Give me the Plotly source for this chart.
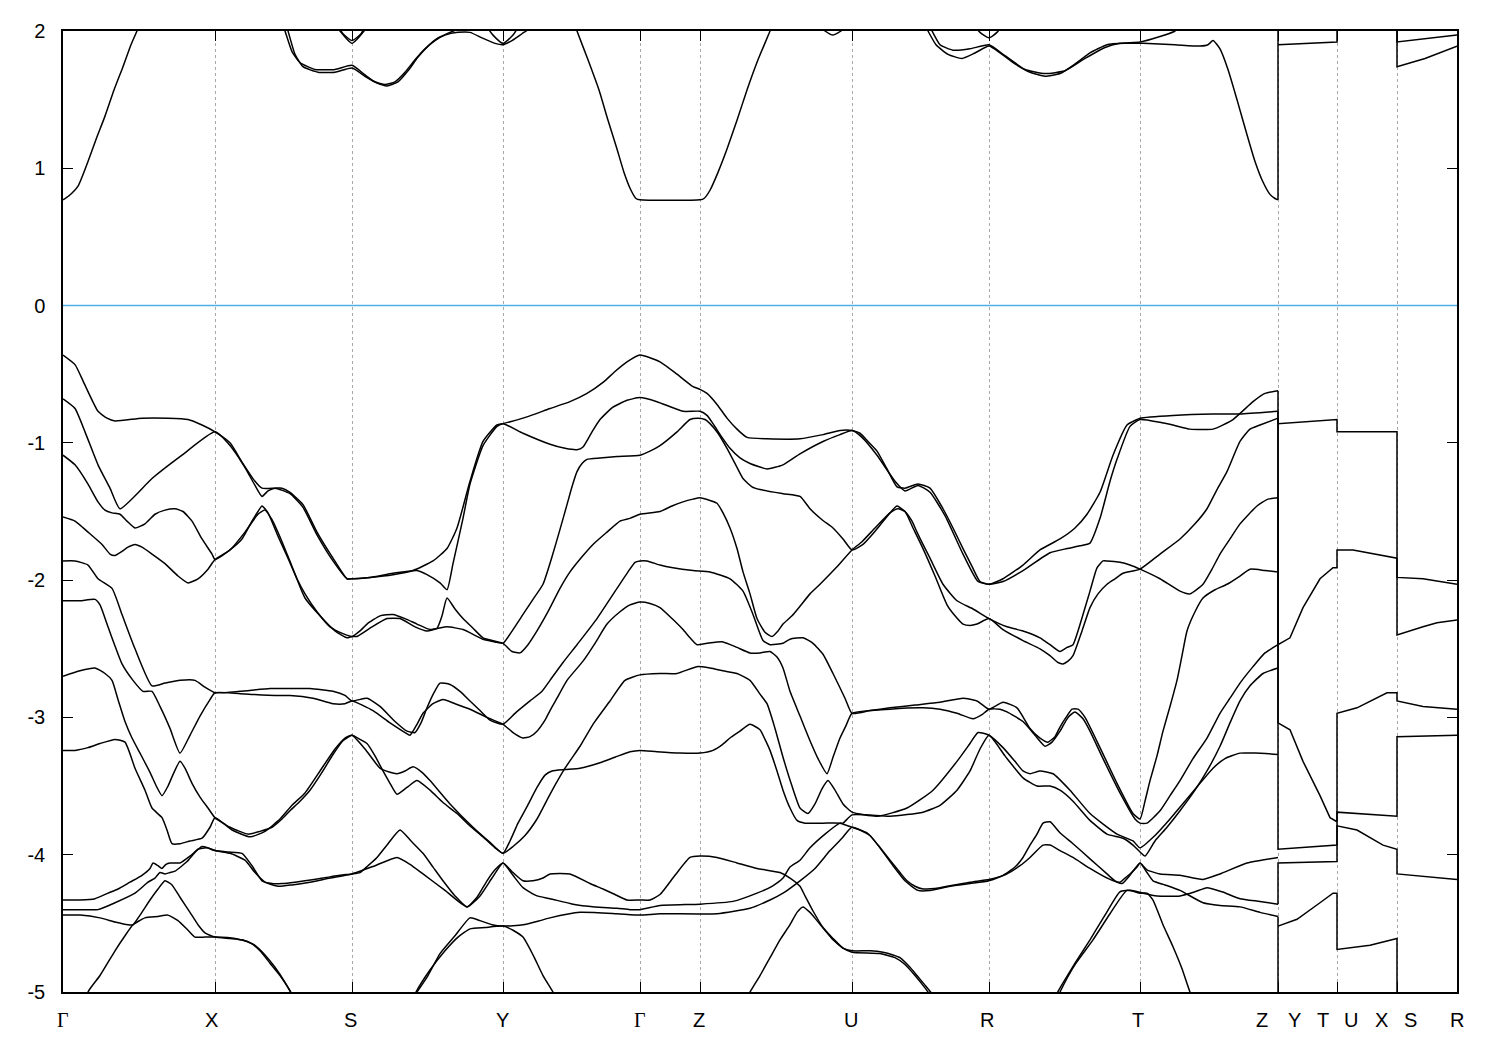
import plotly.graph_objects as go

# ---- high-symmetry path (k, path units) ----
KPTS = [0.0, 0.152, 0.289, 0.440, 0.577, 0.637, 0.789, 0.926, 1.077, 1.215, 1.274, 1.334, 1.394]
LABELS = ["Γ", "X", "S", "Y", "Γ", "Z", "U", "R", "T", "Z", "Y", "T", "U", "X", "S", "R"]
LABEL_K = [0.0, 0.148, 0.287, 0.439, 0.577, 0.636, 0.788, 0.924, 1.075, 1.199, 1.231, 1.260, 1.288, 1.318, 1.347, 1.394]
YTICKS = [-5, -4, -3, -2, -1, 0, 1, 2]
YTICKTEXT = ["-5", "-4", "-3", "-2", "-1", "0", "1", "2"]

# ---- valence bands: (k, E) ----
V1 = [(0,-0.36),(0.012,-0.43),(0.022,-0.58),(0.035,-0.77),(0.044,-0.82),(0.052,-0.84),(0.079,-0.82),(0.105,-0.82),(0.125,-0.83),(0.139,-0.87),(0.152,-0.92),
      (0.167,-1.00),(0.179,-1.14),(0.192,-1.28),(0.199,-1.33),(0.212,-1.33),(0.219,-1.33),(0.227,-1.36),(0.240,-1.45),(0.254,-1.65),(0.270,-1.84),(0.284,-1.99),(0.289,-1.99),
      (0.307,-1.98),(0.330,-1.96),(0.350,-1.93),(0.370,-1.86),(0.384,-1.77),(0.394,-1.62),(0.407,-1.28),(0.420,-0.99),(0.434,-0.87),(0.440,-0.86),
      (0.460,-0.82),(0.487,-0.75),(0.507,-0.70),(0.524,-0.64),(0.540,-0.56),(0.552,-0.48),(0.564,-0.41),(0.577,-0.36),
      (0.597,-0.41),(0.614,-0.50),(0.630,-0.59),(0.637,-0.61),(0.644,-0.64),(0.654,-0.72),(0.664,-0.82),(0.674,-0.90),(0.684,-0.96),(0.704,-0.97),(0.737,-0.97),(0.760,-0.94),(0.777,-0.91),(0.789,-0.91),
      (0.797,-0.93),(0.805,-0.99),(0.814,-1.06),(0.824,-1.19),(0.834,-1.32),(0.842,-1.33),(0.855,-1.30),(0.867,-1.33),(0.880,-1.48),(0.890,-1.62),(0.900,-1.77),(0.909,-1.90),(0.917,-2.01),(0.926,-2.03),
      (0.940,-1.99),(0.960,-1.89),(0.977,-1.78),(0.997,-1.70),(1.012,-1.62),(1.024,-1.52),(1.037,-1.36),(1.050,-1.09),(1.064,-0.87),(1.074,-0.83),(1.077,-0.82),
      (1.110,-0.80),(1.150,-0.79),(1.177,-0.79),(1.215,-0.77)]
V2 = [(0,-0.68),(0.012,-0.75),(0.022,-0.92),(0.035,-1.16),(0.047,-1.33),(0.057,-1.48),(0.089,-1.26),(0.119,-1.09),(0.152,-0.92),
      (0.167,-1.02),(0.182,-1.18),(0.192,-1.31),(0.199,-1.39),(0.205,-1.35),(0.212,-1.33),(0.227,-1.37),(0.240,-1.47),(0.254,-1.67),(0.270,-1.86),(0.284,-1.99),(0.289,-1.99),
      (0.307,-1.98),(0.330,-1.95),(0.354,-1.93),(0.364,-1.96),(0.377,-2.02),(0.384,-2.07),(0.390,-1.88),(0.400,-1.55),(0.407,-1.30),(0.420,-1.02),(0.434,-0.88),(0.440,-0.86),
      (0.460,-0.93),(0.487,-1.01),(0.502,-1.04),(0.514,-1.05),(0.520,-1.03),(0.529,-0.92),(0.537,-0.83),(0.550,-0.74),(0.564,-0.69),(0.577,-0.67),
      (0.594,-0.70),(0.620,-0.77),(0.637,-0.77),(0.644,-0.80),(0.650,-0.86),(0.659,-0.96),(0.667,-1.04),(0.677,-1.11),(0.687,-1.15),(0.704,-1.19),(0.720,-1.16),(0.737,-1.08),(0.760,-0.99),(0.777,-0.94),(0.789,-0.91),
      (0.799,-0.96),(0.814,-1.09),(0.832,-1.28),(0.842,-1.35),(0.855,-1.31),(0.867,-1.36),(0.882,-1.53),(0.900,-1.81),(0.915,-2.01),(0.926,-2.03),
      (0.940,-2.01),(0.960,-1.93),(0.987,-1.80),(1.004,-1.77),(1.017,-1.75),(1.027,-1.73),(1.037,-1.55),(1.047,-1.28),(1.054,-1.12),(1.067,-0.88),(1.077,-0.83),
      (1.097,-0.85),(1.110,-0.87),(1.127,-0.90),(1.150,-0.90),(1.170,-0.83),(1.190,-0.70),(1.202,-0.64),(1.215,-0.62)]
V3 = [(0,-1.09),(0.012,-1.16),(0.025,-1.30),(0.035,-1.43),(0.042,-1.49),(0.049,-1.51),(0.057,-1.52),(0.064,-1.57),(0.072,-1.62),(0.082,-1.59),(0.092,-1.52),(0.102,-1.49),(0.112,-1.48),(0.120,-1.50),(0.129,-1.57),(0.139,-1.70),(0.149,-1.81),(0.152,-1.85),
      (0.165,-1.79),(0.179,-1.70),(0.189,-1.57),(0.195,-1.50),(0.199,-1.46),(0.205,-1.51),(0.215,-1.68),(0.225,-1.84),(0.234,-1.99),(0.242,-2.10),(0.254,-2.23),(0.267,-2.34),(0.280,-2.39),(0.289,-2.41),
      (0.297,-2.37),(0.304,-2.32),(0.317,-2.26),(0.330,-2.25),(0.342,-2.28),(0.354,-2.32),(0.367,-2.36),(0.384,-2.34),(0.400,-2.36),(0.420,-2.43),(0.432,-2.45),(0.440,-2.46),
      (0.450,-2.36),(0.460,-2.25),(0.470,-2.14),(0.480,-2.03),(0.489,-1.83),(0.497,-1.63),(0.504,-1.45),(0.509,-1.32),(0.514,-1.21),(0.519,-1.15),(0.524,-1.12),(0.537,-1.11),(0.554,-1.10),(0.577,-1.09),
      (0.587,-1.06),(0.597,-1.02),(0.614,-0.92),(0.627,-0.83),(0.635,-0.82),(0.642,-0.83),(0.647,-0.86),(0.655,-0.93),(0.664,-1.04),(0.672,-1.15),(0.680,-1.26),(0.689,-1.32),(0.697,-1.34),(0.720,-1.37),(0.737,-1.39),(0.747,-1.48),(0.759,-1.56),(0.770,-1.62),(0.780,-1.70),(0.789,-1.78),
      (0.800,-1.74),(0.809,-1.67),(0.817,-1.60),(0.827,-1.51),(0.834,-1.46),(0.842,-1.50),(0.849,-1.57),(0.854,-1.65),(0.860,-1.74),(0.867,-1.84),(0.880,-2.03),(0.894,-2.15),(0.910,-2.21),(0.926,-2.28),
      (0.944,-2.34),(0.960,-2.37),(0.977,-2.42),(0.987,-2.47),(0.997,-2.52),(1.004,-2.49),(1.010,-2.47),(1.015,-2.37),(1.020,-2.25),(1.027,-2.08),(1.034,-1.91),(1.040,-1.86),(1.044,-1.86),(1.057,-1.87),(1.067,-1.89),(1.077,-1.92),
      (1.097,-1.99),(1.117,-2.08),(1.127,-2.10),(1.140,-2.03),(1.149,-1.92),(1.157,-1.81),(1.167,-1.70),(1.177,-1.59),(1.194,-1.46),(1.205,-1.41),(1.215,-1.40)]
V4 = [(0,-1.54),(0.012,-1.57),(0.025,-1.65),(0.039,-1.74),(0.047,-1.81),(0.052,-1.82),(0.059,-1.79),(0.065,-1.76),(0.072,-1.74),(0.079,-1.76),(0.089,-1.81),(0.102,-1.88),(0.115,-1.97),(0.125,-2.02),(0.135,-1.99),(0.145,-1.92),(0.152,-1.85),
      (0.167,-1.78),(0.182,-1.65),(0.195,-1.52),(0.202,-1.49),(0.209,-1.56),(0.219,-1.72),(0.229,-1.90),(0.242,-2.13),(0.257,-2.26),(0.272,-2.37),(0.284,-2.42),(0.289,-2.41),
      (0.294,-2.41),(0.307,-2.35),(0.324,-2.28),(0.337,-2.28),(0.352,-2.34),(0.364,-2.37),(0.374,-2.35),(0.379,-2.26),(0.384,-2.13),(0.392,-2.21),(0.400,-2.28),(0.410,-2.35),(0.420,-2.42),(0.440,-2.46),
      (0.449,-2.52),(0.457,-2.53),(0.465,-2.47),(0.474,-2.37),(0.485,-2.23),(0.497,-2.06),(0.507,-1.94),(0.519,-1.83),(0.530,-1.74),(0.544,-1.65),(0.557,-1.57),(0.567,-1.55),(0.577,-1.52),
      (0.597,-1.50),(0.609,-1.46),(0.620,-1.43),(0.630,-1.41),(0.637,-1.40),(0.647,-1.42),(0.654,-1.44),(0.660,-1.51),(0.667,-1.62),(0.674,-1.77),(0.680,-1.94),(0.687,-2.10),(0.694,-2.28),(0.702,-2.38),(0.709,-2.41),(0.715,-2.37),(0.720,-2.32),(0.729,-2.26),(0.737,-2.19),(0.747,-2.10),(0.757,-2.03),(0.773,-1.91),(0.789,-1.78),
      (0.799,-1.72),(0.812,-1.62),(0.827,-1.51),(0.835,-1.48),(0.842,-1.50),(0.850,-1.62),(0.860,-1.77),(0.872,-1.97),(0.884,-2.18),(0.892,-2.26),(0.900,-2.32),(0.907,-2.33),(0.914,-2.32),(0.926,-2.28),
      (0.940,-2.36),(0.960,-2.44),(0.977,-2.50),(0.987,-2.55),(0.995,-2.60),(1.000,-2.61),(1.005,-2.59),(1.010,-2.55),(1.019,-2.37),(1.027,-2.20),(1.035,-2.10),(1.044,-2.03),(1.052,-1.99),(1.060,-1.95),(1.077,-1.92),
      (1.097,-1.81),(1.117,-1.70),(1.132,-1.59),(1.144,-1.48),(1.154,-1.34),(1.164,-1.21),(1.177,-0.99),(1.187,-0.90),(1.197,-0.87),(1.215,-0.82)]
V5 = [(0,-1.86),(0.012,-1.86),(0.025,-1.89),(0.035,-1.99),(0.049,-2.06),(0.059,-2.25),(0.072,-2.50),(0.089,-2.77),(0.102,-2.75),(0.117,-2.73),(0.132,-2.73),(0.142,-2.78),(0.152,-2.82),
      (0.177,-2.81),(0.207,-2.79),(0.227,-2.79),(0.247,-2.79),(0.270,-2.81),(0.282,-2.84),(0.289,-2.88),
      (0.304,-2.86),(0.317,-2.92),(0.332,-3.03),(0.344,-3.10),(0.352,-3.11),(0.358,-3.04),(0.364,-2.93),(0.371,-2.82),(0.377,-2.75),(0.387,-2.76),(0.397,-2.81),(0.407,-2.88),(0.417,-2.95),(0.427,-3.02),(0.440,-3.05),
      (0.452,-2.97),(0.467,-2.88),(0.479,-2.81),(0.487,-2.73),(0.500,-2.60),(0.514,-2.47),(0.534,-2.28),(0.554,-2.06),(0.565,-1.94),(0.572,-1.87),(0.577,-1.86),
      (0.584,-1.86),(0.597,-1.89),(0.610,-1.91),(0.630,-1.93),(0.647,-1.94),(0.667,-1.99),(0.680,-2.08),(0.690,-2.25),(0.700,-2.44),(0.707,-2.47),(0.720,-2.46),(0.727,-2.43),(0.740,-2.42),(0.750,-2.46),(0.760,-2.54),(0.770,-2.68),(0.782,-2.86),(0.789,-2.97),
      (0.807,-2.95),(0.827,-2.93),(0.852,-2.91),(0.877,-2.89),(0.900,-2.86),(0.914,-2.88),(0.926,-2.94),
      (0.940,-2.89),(0.954,-2.93),(0.967,-3.08),(0.977,-3.15),(0.985,-3.18),(0.992,-3.14),(0.997,-3.07),(1.003,-3.00),(1.009,-2.94),(1.015,-2.94),(1.022,-3.00),(1.037,-3.22),(1.054,-3.48),(1.070,-3.70),(1.077,-3.74),
      (1.082,-3.61),(1.087,-3.46),(1.094,-3.28),(1.100,-3.10),(1.107,-2.92),(1.114,-2.73),(1.119,-2.55),(1.124,-2.37),(1.132,-2.23),(1.140,-2.13),(1.152,-2.07),(1.164,-2.03),(1.177,-1.97),(1.187,-1.92),(1.202,-1.93),(1.215,-1.94)]
V6 = [(0,-2.15),(0.017,-2.15),(0.032,-2.14),(0.037,-2.18),(0.045,-2.34),(0.052,-2.48),(0.059,-2.61),(0.070,-2.73),(0.080,-2.81),(0.089,-2.81),(0.097,-2.92),(0.107,-3.08),(0.117,-3.26),(0.127,-3.13),(0.137,-2.99),(0.147,-2.87),(0.152,-2.82),
      (0.182,-2.83),(0.212,-2.84),(0.227,-2.84),(0.250,-2.86),(0.270,-2.90),(0.282,-2.90),(0.289,-2.88),
      (0.310,-2.95),(0.327,-3.04),(0.342,-3.11),(0.347,-3.13),(0.354,-3.05),(0.360,-2.97),(0.370,-2.90),(0.380,-2.87),(0.392,-2.90),(0.407,-2.94),(0.424,-3.00),(0.440,-3.05),
      (0.450,-3.11),(0.460,-3.15),(0.467,-3.14),(0.474,-3.10),(0.482,-3.02),(0.487,-2.95),(0.494,-2.86),(0.504,-2.73),(0.520,-2.59),(0.532,-2.46),(0.544,-2.32),(0.557,-2.23),(0.567,-2.18),(0.577,-2.16),
      (0.587,-2.17),(0.597,-2.20),(0.609,-2.28),(0.620,-2.36),(0.627,-2.42),(0.634,-2.47),(0.644,-2.46),(0.660,-2.45),(0.674,-2.49),(0.687,-2.53),(0.697,-2.53),(0.707,-2.52),(0.714,-2.56),(0.720,-2.64),(0.727,-2.81),(0.737,-2.99),(0.747,-3.17),(0.755,-3.30),(0.764,-3.41),(0.770,-3.29),(0.777,-3.15),(0.783,-3.06),(0.789,-2.97),
      (0.827,-2.94),(0.860,-2.93),(0.877,-2.94),(0.894,-2.97),(0.910,-3.01),(0.919,-2.98),(0.926,-2.94),
      (0.937,-2.94),(0.944,-2.96),(0.960,-3.03),(0.972,-3.13),(0.982,-3.21),(0.989,-3.18),(0.997,-3.10),(1.005,-3.00),(1.012,-2.96),(1.020,-3.01),(1.027,-3.10),(1.040,-3.30),(1.057,-3.55),(1.072,-3.74),(1.077,-3.77),
      (1.084,-3.77),(1.097,-3.68),(1.107,-3.57),(1.117,-3.46),(1.130,-3.30),(1.144,-3.15),(1.157,-2.97),(1.167,-2.86),(1.177,-2.75),(1.190,-2.63),(1.202,-2.53),(1.215,-2.47)]
V7 = [(0,-2.70),(0.017,-2.66),(0.032,-2.64),(0.042,-2.68),(0.049,-2.73),(0.055,-2.87),(0.062,-3.03),(0.069,-3.15),(0.077,-3.26),(0.087,-3.40),(0.094,-3.51),(0.099,-3.57),(0.105,-3.50),(0.111,-3.40),(0.117,-3.32),(0.122,-3.37),(0.129,-3.48),(0.137,-3.58),(0.145,-3.66),(0.152,-3.73),
      (0.167,-3.80),(0.185,-3.85),(0.197,-3.83),(0.209,-3.80),(0.219,-3.74),(0.227,-3.68),(0.237,-3.61),(0.247,-3.53),(0.259,-3.40),(0.270,-3.27),(0.280,-3.17),(0.289,-3.13),
      (0.297,-3.16),(0.304,-3.19),(0.312,-3.28),(0.320,-3.39),(0.327,-3.48),(0.334,-3.56),(0.344,-3.51),(0.354,-3.46),(0.367,-3.53),(0.380,-3.62),(0.394,-3.70),(0.407,-3.79),(0.420,-3.87),(0.432,-3.95),(0.440,-3.99),
      (0.450,-3.94),(0.462,-3.86),(0.474,-3.74),(0.487,-3.56),(0.502,-3.37),(0.517,-3.21),(0.530,-3.05),(0.547,-2.88),(0.562,-2.73),(0.577,-2.69),
      (0.597,-2.68),(0.614,-2.68),(0.634,-2.63),(0.647,-2.64),(0.660,-2.66),(0.674,-2.68),(0.687,-2.73),(0.697,-2.83),(0.704,-2.90),(0.712,-3.08),(0.720,-3.29),(0.729,-3.50),(0.737,-3.66),(0.745,-3.70),(0.752,-3.63),(0.759,-3.52),(0.765,-3.46),(0.772,-3.53),(0.780,-3.63),(0.789,-3.69),
      (0.814,-3.72),(0.844,-3.66),(0.870,-3.53),(0.894,-3.32),(0.907,-3.19),(0.915,-3.11),(0.926,-3.13),
      (0.940,-3.22),(0.952,-3.32),(0.960,-3.39),(0.967,-3.41),(0.977,-3.39),(0.990,-3.41),(1.007,-3.53),(1.027,-3.70),(1.054,-3.85),(1.070,-3.90),(1.077,-3.95),
      (1.092,-3.86),(1.107,-3.74),(1.122,-3.61),(1.137,-3.48),(1.150,-3.37),(1.162,-3.30),(1.177,-3.26),(1.192,-3.26),(1.215,-3.27)]
V8 = [(0,-3.24),(0.012,-3.24),(0.025,-3.22),(0.037,-3.19),(0.052,-3.16),(0.062,-3.18),(0.072,-3.37),(0.082,-3.53),(0.089,-3.66),(0.099,-3.73),(0.104,-3.82),(0.109,-3.92),(0.117,-3.92),(0.127,-3.90),(0.139,-3.88),(0.147,-3.80),(0.152,-3.73),
      (0.169,-3.82),(0.187,-3.87),(0.202,-3.83),(0.217,-3.74),(0.229,-3.64),(0.242,-3.55),(0.257,-3.39),(0.272,-3.23),(0.282,-3.15),(0.289,-3.13),
      (0.302,-3.23),(0.317,-3.37),(0.327,-3.40),(0.334,-3.41),(0.342,-3.39),(0.350,-3.36),(0.359,-3.40),(0.367,-3.46),(0.387,-3.63),(0.410,-3.80),(0.427,-3.91),(0.440,-3.99),
      (0.447,-3.90),(0.455,-3.77),(0.464,-3.65),(0.474,-3.51),(0.482,-3.42),(0.489,-3.39),(0.502,-3.38),(0.517,-3.37),(0.537,-3.33),(0.552,-3.29),(0.567,-3.25),(0.577,-3.24),
      (0.594,-3.25),(0.617,-3.26),(0.637,-3.26),(0.650,-3.24),(0.659,-3.20),(0.667,-3.15),(0.677,-3.10),(0.687,-3.05),(0.697,-3.09),(0.702,-3.16),(0.707,-3.24),(0.714,-3.39),(0.720,-3.53),(0.727,-3.66),(0.734,-3.75),(0.742,-3.77),(0.760,-3.77),(0.777,-3.77),(0.789,-3.80),
      (0.804,-3.84),(0.815,-3.93),(0.827,-4.04),(0.837,-4.13),(0.844,-4.19),(0.852,-4.23),(0.860,-4.25),(0.877,-4.24),(0.907,-4.20),(0.926,-4.18),
      (0.940,-4.15),(0.952,-4.09),(0.960,-4.02),(0.967,-3.93),(0.974,-3.85),(0.980,-3.77),(0.987,-3.76),(0.997,-3.84),(1.010,-3.92),(1.027,-4.03),(1.044,-4.14),(1.052,-4.19),(1.057,-4.20),(1.062,-4.17),(1.067,-4.14),(1.074,-4.09),(1.077,-4.06),
      (1.084,-4.11),(1.097,-4.14),(1.117,-4.15),(1.140,-4.18),(1.157,-4.14),(1.184,-4.06),(1.215,-4.02)]
V9 = [(0,-4.33),(0.017,-4.33),(0.032,-4.32),(0.045,-4.28),(0.055,-4.25),(0.067,-4.20),(0.079,-4.15),(0.087,-4.10),(0.090,-4.06),(0.095,-4.08),(0.099,-4.10),(0.103,-4.07),(0.107,-4.06),(0.117,-4.06),(0.127,-4.01),(0.139,-3.94),(0.145,-3.95),(0.152,-3.97),
      (0.165,-3.98),(0.179,-3.99),(0.189,-4.08),(0.199,-4.19),(0.209,-4.21),(0.219,-4.21),(0.232,-4.20),(0.242,-4.19),(0.260,-4.17),(0.277,-4.15),(0.289,-4.14),
      (0.297,-4.13),(0.305,-4.08),(0.314,-4.02),(0.325,-3.92),(0.337,-3.82),(0.348,-3.90),(0.360,-3.99),(0.370,-4.09),(0.380,-4.19),(0.392,-4.30),(0.404,-4.38),(0.414,-4.31),(0.424,-4.19),(0.432,-4.11),(0.440,-4.06),
      (0.450,-4.13),(0.460,-4.19),(0.470,-4.19),(0.480,-4.17),(0.487,-4.14),(0.507,-4.14),(0.527,-4.21),(0.540,-4.25),(0.552,-4.29),(0.564,-4.33),(0.577,-4.33),
      (0.587,-4.33),(0.597,-4.29),(0.612,-4.15),(0.627,-4.02),(0.637,-4.01),(0.654,-4.02),(0.674,-4.06),(0.694,-4.10),(0.717,-4.13),(0.727,-4.17),(0.737,-4.23),(0.742,-4.30),(0.750,-4.41),(0.760,-4.53),(0.770,-4.61),(0.780,-4.68),(0.789,-4.70),
      (0.807,-4.70),(0.820,-4.71),(0.830,-4.73),(0.837,-4.75),(0.847,-4.82),(0.854,-4.88),(0.862,-4.95),(0.872,-5.04),(0.887,-5.20),(0.926,-5.35),
      (0.977,-5.30),(0.994,-5.01),(1.002,-4.91),(1.012,-4.79),(1.027,-4.62),(1.042,-4.44),(1.057,-4.27),(1.069,-4.26),(1.080,-4.28),(1.094,-4.30),(1.117,-4.30),(1.132,-4.27),(1.144,-4.24),(1.159,-4.27),(1.177,-4.32),(1.197,-4.34),(1.215,-4.36)]
V10 = [(0,-4.40),(0.017,-4.40),(0.035,-4.40),(0.052,-4.35),(0.072,-4.28),(0.085,-4.20),(0.092,-4.17),(0.097,-4.13),(0.102,-4.14),(0.107,-4.13),(0.112,-4.12),(0.124,-4.05),(0.135,-3.96),(0.144,-3.95),(0.152,-3.97),
       (0.167,-3.99),(0.182,-4.04),(0.192,-4.13),(0.202,-4.20),(0.215,-4.23),(0.229,-4.22),(0.247,-4.20),(0.267,-4.17),(0.289,-4.14),
       (0.312,-4.08),(0.334,-4.02),(0.347,-4.07),(0.360,-4.14),(0.382,-4.26),(0.404,-4.38),(0.417,-4.30),(0.429,-4.17),(0.440,-4.06),
       (0.450,-4.15),(0.460,-4.24),(0.474,-4.30),(0.487,-4.32),(0.510,-4.36),(0.532,-4.38),(0.554,-4.39),(0.567,-4.40),(0.577,-4.40),
       (0.597,-4.37),(0.637,-4.36),(0.670,-4.34),(0.694,-4.28),(0.709,-4.23),(0.720,-4.17),(0.727,-4.09),(0.737,-4.04),(0.747,-3.95),(0.762,-3.85),(0.777,-3.77),(0.780,-3.77),(0.789,-3.71),
       (0.827,-3.72),(0.860,-3.69),(0.877,-3.64),(0.894,-3.53),(0.907,-3.39),(0.917,-3.23),(0.926,-3.13),
       (0.942,-3.28),(0.960,-3.44),(0.974,-3.50),(0.987,-3.50),(0.997,-3.53),(1.010,-3.61),(1.027,-3.75),(1.044,-3.85),(1.060,-3.88),(1.070,-3.93),(1.077,-3.98),
       (1.082,-4.01),(1.092,-3.90),(1.104,-3.80),(1.117,-3.68),(1.132,-3.53),(1.144,-3.39),(1.157,-3.21),(1.167,-3.04),(1.177,-2.88),(1.187,-2.77),(1.200,-2.68),(1.215,-2.64)]
V11 = [(0,-4.44),(0.017,-4.44),(0.037,-4.46),(0.052,-4.49),(0.065,-4.51),(0.070,-4.51),(0.077,-4.44),(0.087,-4.33),(0.095,-4.25),(0.102,-4.19),(0.109,-4.22),(0.117,-4.31),(0.127,-4.42),(0.135,-4.51),(0.142,-4.57),(0.152,-4.60),
       (0.167,-4.61),(0.179,-4.62),(0.192,-4.66),(0.202,-4.73),(0.212,-4.82),(0.222,-4.93),(0.229,-5.02),(0.237,-5.13),(0.289,-5.35),
       (0.342,-5.13),(0.354,-5.00),(0.365,-4.88),(0.377,-4.72),(0.392,-4.59),(0.407,-4.46),(0.417,-4.48),(0.429,-4.51),(0.440,-4.52),
       (0.460,-4.51),(0.477,-4.48),(0.487,-4.46),(0.517,-4.42),(0.554,-4.43),(0.577,-4.44),
       (0.597,-4.43),(0.654,-4.43),(0.687,-4.39),(0.707,-4.33),(0.720,-4.28),(0.737,-4.19),(0.752,-4.10),(0.767,-3.97),(0.779,-3.88),(0.789,-3.80),
       (0.807,-3.86),(0.819,-3.97),(0.830,-4.08),(0.842,-4.19),(0.855,-4.26),(0.867,-4.26),(0.887,-4.23),(0.907,-4.21),(0.926,-4.19),
       (0.944,-4.14),(0.957,-4.08),(0.967,-4.02),(0.980,-3.93),(0.987,-3.93),(0.997,-3.97),(1.010,-4.02),(1.027,-4.10),(1.044,-4.17),(1.059,-4.21),(1.069,-4.13),(1.077,-4.06),
       (1.084,-4.13),(1.090,-4.19),(1.102,-4.22),(1.117,-4.26),(1.140,-4.35),(1.157,-4.37),(1.177,-4.38),(1.197,-4.42),(1.215,-4.45)]
V12 = [(0.012,-5.35),(0.025,-5.00),(0.037,-4.88),(0.052,-4.70),(0.062,-4.59),(0.070,-4.51),(0.082,-4.46),(0.095,-4.45),(0.105,-4.44),(0.115,-4.48),(0.125,-4.55),(0.132,-4.60),(0.142,-4.60),(0.152,-4.60),
       (0.172,-4.61),(0.187,-4.64),(0.197,-4.70),(0.207,-4.79),(0.217,-4.88),(0.227,-4.99),(0.235,-5.10),(0.289,-5.35),
       (0.345,-5.13),(0.353,-5.00),(0.367,-4.84),(0.382,-4.70),(0.395,-4.60),(0.407,-4.54),(0.422,-4.53),(0.440,-4.52),
       (0.450,-4.55),(0.460,-4.60),(0.470,-4.73),(0.480,-4.88),(0.490,-5.00),(0.499,-5.13),(0.514,-5.35),
       (0.577,-5.35),(0.672,-5.20),(0.687,-5.00),(0.697,-4.88),(0.707,-4.75),(0.717,-4.62),(0.727,-4.51),(0.734,-4.42),(0.740,-4.38),(0.747,-4.42),(0.754,-4.48),(0.762,-4.55),(0.770,-4.62),(0.780,-4.68),(0.789,-4.71),
       (0.817,-4.72),(0.832,-4.75),(0.842,-4.80),(0.852,-4.88),(0.862,-4.97),(0.869,-5.04),(0.882,-5.17),(0.926,-5.35),
       (0.977,-5.35),(0.997,-5.00),(1.012,-4.80),(1.030,-4.62),(1.047,-4.43),(1.064,-4.26),(1.077,-4.28),(1.084,-4.28),(1.090,-4.33),(1.100,-4.51),(1.110,-4.67),(1.119,-4.83),(1.127,-5.00),(1.137,-5.17),(1.152,-5.35)]

# ---- Y|T, U|X, S|R tail (discontinuous path, straight segments) ----
T1 = [(1.215,-0.62),(1.215,-3.96),(1.274,-3.93),(1.274,-3.79),(1.294,-3.82),(1.320,-3.93),(1.334,-3.96),(1.334,-4.14),(1.394,-4.18)]
T2 = [(1.215,-0.77),(1.215,-0.86),(1.274,-0.83),(1.274,-0.92),(1.334,-0.92),(1.334,-2.40),(1.360,-2.34),(1.374,-2.31),(1.394,-2.29)]
T3 = [(1.215,-0.82),(1.215,-2.47),(1.227,-2.42),(1.240,-2.20),(1.257,-1.99),(1.270,-1.91),(1.274,-1.91),(1.274,-1.78),(1.290,-1.78),(1.334,-1.84),(1.334,-1.98),(1.360,-1.99),(1.394,-2.03)]
T4 = [(1.215,-1.40),(1.215,-3.04),(1.227,-3.09),(1.240,-3.32),(1.257,-3.57),(1.267,-3.73),(1.274,-3.76),(1.274,-3.69),(1.334,-3.72),(1.334,-3.14),(1.394,-3.13)]
T5 = [(1.215,-4.36),(1.215,-4.06),(1.274,-4.05),(1.274,-2.97),(1.294,-2.93),(1.324,-2.82),(1.334,-2.82),(1.334,-2.88),(1.360,-2.92),(1.394,-2.94)]
T6 = [(1.215,-4.52),(1.234,-4.47),(1.257,-4.35),(1.270,-4.28),(1.274,-4.28),(1.274,-4.69),(1.307,-4.66),(1.334,-4.61),(1.334,-5.30),(1.394,-5.30)]
T7 = [(1.215,-4.45),(1.215,-5.30)]
CTZ = [(1.215,0.77),(1.215,2.30)]
CT2 = [(1.215,1.90),(1.274,1.92),(1.274,2.30),(1.334,2.30),(1.334,1.74),(1.362,1.80),(1.394,1.89)]
CT3 = [(1.334,2.30),(1.334,1.92),(1.394,1.97)]

# ---- conduction bands ----
C1 = [(0,0.77),(0.006,0.80),(0.015,0.87),(0.025,1.05),(0.033,1.21),(0.042,1.38),(0.051,1.57),(0.060,1.74),(0.068,1.90),(0.074,2.00),(0.080,2.10)]
C2 = [(0.509,2.10),(0.514,2.00),(0.525,1.79),(0.536,1.57),(0.545,1.35),(0.554,1.14),(0.561,0.97),(0.568,0.84),(0.573,0.78),(0.577,0.77),
      (0.637,0.77),(0.641,0.78),(0.647,0.84),(0.655,0.97),(0.664,1.14),(0.674,1.35),(0.684,1.57),(0.695,1.79),(0.707,2.00),(0.712,2.10)]
CSA = [(0.218,2.08),(0.222,2.00),(0.229,1.85),(0.237,1.77),(0.252,1.72),(0.272,1.72),(0.289,1.75),(0.302,1.68),(0.312,1.63),(0.322,1.61),(0.332,1.63),(0.342,1.70),(0.352,1.79),(0.362,1.87),(0.372,1.93),(0.382,1.97),(0.395,1.99),(0.407,1.99),(0.419,1.95),(0.432,1.91),(0.440,1.90),(0.449,1.93),(0.459,1.98),(0.467,2.02),(0.472,2.06)]
CSB = [(0.221,2.08),(0.225,2.00),(0.232,1.83),(0.240,1.74),(0.255,1.70),(0.272,1.70),(0.289,1.73),(0.304,1.66),(0.314,1.62),(0.324,1.60),(0.335,1.63),(0.345,1.71),(0.355,1.81),(0.365,1.89),(0.375,1.95),(0.387,1.99),(0.397,2.02),(0.405,2.05)]
CSC = [(0.270,2.06),(0.277,2.00),(0.284,1.94),(0.289,1.91),(0.294,1.94),(0.301,2.00),(0.307,2.06)]
CSD = [(0.273,2.06),(0.280,1.98),(0.289,1.93),(0.298,1.98),(0.304,2.06)]
CSE = [(0.422,2.05),(0.430,1.97),(0.440,1.91),(0.450,1.97),(0.457,2.05)]
CU = [(0.755,2.05),(0.762,2.00),(0.770,1.97),(0.778,2.00),(0.784,2.05)]
CRA = [(0.859,2.08),(0.865,2.00),(0.873,1.90),(0.885,1.83),(0.899,1.80),(0.912,1.84),(0.926,1.89),(0.937,1.84),(0.952,1.76),(0.967,1.70),(0.982,1.67),(0.997,1.69),(1.012,1.76),(1.027,1.84),(1.044,1.90),(1.062,1.91),(1.080,1.91),(1.112,1.90),(1.137,1.89),(1.145,1.90),(1.150,1.93),
       (1.157,1.87),(1.165,1.72),(1.174,1.50),(1.183,1.27),(1.192,1.05),(1.200,0.90),(1.207,0.81),(1.212,0.78),(1.215,0.77)]
CRB = [(0.863,2.08),(0.869,2.00),(0.877,1.90),(0.890,1.86),(0.907,1.87),(0.926,1.90),(0.942,1.82),(0.962,1.72),(0.982,1.69),(1.002,1.71),(1.022,1.80),(1.042,1.88),(1.057,1.91),(1.077,1.92),(1.097,1.96),(1.112,2.00),(1.119,2.05)]
CRC = [(0.909,2.06),(0.917,1.99),(0.926,1.95),(0.934,1.99),(0.941,2.06)]

SMOOTH_BANDS = [V1, V2, V3, V4, V5, V6, V7, V8, V9, V10, V11, V12,
                C1, C2, CSA, CSB, CSC, CSD, CSE, CU, CRA, CRB, CRC]
STRAIGHT_BANDS = [T1, T2, T3, T4, T5, T6, T7, CTZ, CT2, CT3]

fig = go.Figure()
for band in SMOOTH_BANDS:
    fig.add_trace(go.Scatter(
        x=[p[0] for p in band], y=[p[1] for p in band],
        mode="lines", line=dict(color="black", width=1.5, shape="spline", smoothing=0.5),
        showlegend=False, hoverinfo="skip"))
for band in STRAIGHT_BANDS:
    fig.add_trace(go.Scatter(
        x=[p[0] for p in band], y=[p[1] for p in band],
        mode="lines", line=dict(color="black", width=1.5),
        showlegend=False, hoverinfo="skip"))

# Fermi level
fig.add_shape(type="line", xref="paper", x0=0, x1=1, yref="y", y0=0, y1=0,
              line=dict(color="#4eaee6", width=1.5), layer="above")

SANS = "Liberation Sans, Arial, sans-serif"
for lab, kx in zip(LABELS, LABEL_K):
    fam = "Liberation Serif, Times New Roman, serif" if lab == "Γ" else SANS
    fig.add_annotation(x=kx, xref="x", y=-0.029, yref="paper", text=lab,
                       showarrow=False, xanchor="center", yanchor="middle",
                       font=dict(family=fam, size=20, color="black"))

# page body has an 8px default margin; compensate so the frame sits where the reference has it
fig.update_layout(
    width=1500, height=1050,
    margin=dict(l=55, r=51, t=20, b=66),
    paper_bgcolor="white", plot_bgcolor="white",
    font=dict(family=SANS, size=20, color="black"),
)
fig.update_xaxes(
    range=[0, KPTS[-1]], tickvals=KPTS, ticktext=[""] * len(KPTS),
    showgrid=True, gridcolor="#a8a8a8", gridwidth=1, griddash="3px,3px",
    ticks="inside", ticklen=10, tickwidth=1.3, tickcolor="black",
    showline=True, linecolor="black", linewidth=1.5, mirror="allticks",
    zeroline=False,
)
fig.update_yaxes(
    range=[-5, 2], tickvals=YTICKS, ticktext=YTICKTEXT,
    showgrid=False, zeroline=False,
    ticks="inside", ticklen=10, tickwidth=1.3, tickcolor="black",
    showline=True, linecolor="black", linewidth=1.5, mirror="allticks",
    tickfont=dict(family=SANS, size=20, color="black"),
    ticklabelstandoff=12,
)

fig.write_html("out.html")
